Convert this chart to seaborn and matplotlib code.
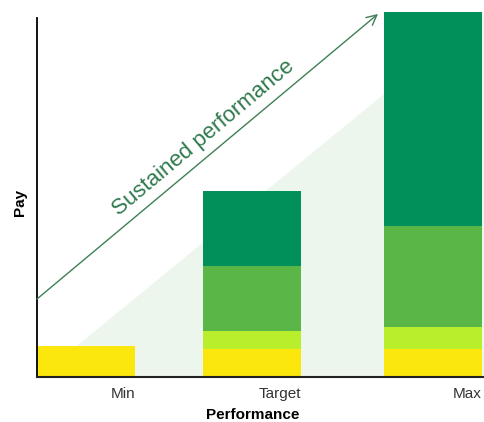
import numpy as np
import pandas as pd
import matplotlib.pyplot as plt
import seaborn as sns

# pay levels (bar centres on a pixel-like performance scale)
levels = ["Min", "Target", "Max"]
level_pos = [49, 215, 396]
label_pos = [98, 264, 445]

# stacked pay components, bottom to top
components = ["Base", "Benefits", "Short-term", "Long-term"]
base = [31, 28, 28]
benefits = [0, 18, 22]
short_term = [0, 65, 101]
long_term = [0, 75, 214]
comp_colors = ["#FCE70C", "#B8EE2C", "#5AB646", "#02905A"]

sns.set_theme(style="white")
plt.rcParams['font.family'] = ['Liberation Sans', 'DejaVu Sans']

rows = []
vals = np.array([base, benefits, short_term, long_term], dtype=float)
tops = np.cumsum(vals, axis=0)
for i, name in enumerate(components):
    for j, lvl in enumerate(levels):
        rows.append({"component": name, "level": lvl, "pos": level_pos[j],
                     "top": tops[i, j] if vals[i, j] > 0 else 0.0})
df = pd.DataFrame(rows)

fig = plt.figure(figsize=(4.84, 4.22), dpi=100)
ax = fig.add_axes([37 / 484, 45 / 422, 447 / 484, 365 / 422])
ax.set_xlim(0, 447)
ax.set_ylim(0, 365)

# light "sustained performance" wedge
ax.fill([2, 447, 447], [0, 365, 0], color="#EDF6EC", lw=0, zorder=0)

# draw stacks tallest first so lower layers overlay
for name, col in reversed(list(zip(components, comp_colors))):
    sub = df[df["component"] == name]
    sns.barplot(data=sub, x="pos", y="top", native_scale=True, width=98 / 166,
                color=col, saturation=1, linewidth=0, errorbar=None, ax=ax, zorder=2)

ax.set_xlim(0, 447)
ax.set_ylim(0, 365)
for p in ax.patches:
    p.set_clip_on(False)

ax.annotate("", xy=(341, 363), xytext=(0, 78),
            arrowprops=dict(arrowstyle="->,head_length=0.6,head_width=0.3",
                            color="#3E7F55", lw=1.0, shrinkA=0, shrinkB=0),
            annotation_clip=False, zorder=3)
ax.text(166, 239, "Sustained performance", rotation=40, rotation_mode="anchor",
        ha="center", va="center", color="#2F7A4D", fontsize=16)

ax.set_xticks(label_pos)
ax.set_xticklabels(levels, ha="right", color="#333333", fontsize=11)
ax.set_yticks([])
ax.tick_params(axis="x", length=0, pad=7)
ax.set_xlabel("Performance", fontsize=11, fontweight="bold", color="black")
ax.xaxis.set_label_coords(216 / 447, -31 / 365)
ax.set_ylabel("Pay", fontsize=11, fontweight="bold", color="black")
ax.yaxis.set_label_coords(-10 / 447, 175 / 365)

sns.despine(ax=ax)
ax.spines["left"].set_bounds(0, 359)
ax.spines["left"].set_color("black")
ax.spines["left"].set_linewidth(1.3)
ax.spines["bottom"].set_color("#222222")
ax.spines["bottom"].set_linewidth(1.5)

fig.savefig("out.png", dpi=100)
